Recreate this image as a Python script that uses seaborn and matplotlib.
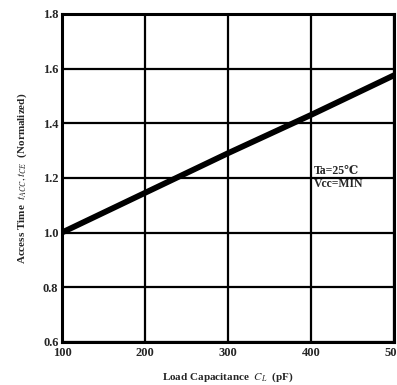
import matplotlib
matplotlib.use("Agg")
import matplotlib.pyplot as plt
import seaborn as sns
import pandas as pd

# Data
load_pf = [100, 200, 300, 400, 500]
access_norm = [1.00, 1.145, 1.29, 1.43, 1.575]
x_ticks = [100, 200, 300, 400, 500]
y_ticks = [0.6, 0.8, 1.0, 1.2, 1.4, 1.6, 1.8]

sns.set_style("white")
plt.rcParams['font.family'] = ['Liberation Serif', 'DejaVu Serif']
plt.rcParams['mathtext.fontset'] = 'stix'

df = pd.DataFrame({"CL": load_pf, "t": access_norm})

fig = plt.figure(figsize=(3.97, 3.85), dpi=100)
ax = fig.add_axes([0.156, 0.112, 0.836, 0.852])

sns.lineplot(data=df, x="CL", y="t", ax=ax, color="black", linewidth=4.2)

ax.set_xlim(100, 500)
ax.set_ylim(0.6, 1.8)
ax.set_xticks(x_ticks)
ax.set_yticks(y_ticks)
ax.set_xticklabels([str(v) for v in x_ticks], fontsize=9, fontweight='bold')
ax.set_yticklabels([f"{v:.1f}" for v in y_ticks], fontsize=9, fontweight='bold')
ax.tick_params(axis='x', length=0, pad=4)
ax.tick_params(axis='y', length=0, pad=2.5)
ax.grid(True, color='black', linewidth=1.6)
ax.set_axisbelow(True)
for s in ax.spines.values():
    s.set_color('black')
    s.set_linewidth(2.2)

ax.set_xlabel(r"Load Capacitance  $C_L$  (pF)", fontsize=8, fontweight='bold', labelpad=8)
ax.set_ylabel(r"Access Time  $t_{ACC}, t_{CE}$  (Normalized)", fontsize=8, fontweight='bold', labelpad=10)

ax.text(0.76, 0.54, "Ta=25\u2103\nVcc=MIN", transform=ax.transAxes, fontsize=8.5,
        fontweight='bold', ha='left', va='top', linespacing=1.15,
        family=['Liberation Serif', 'DejaVu Serif'])

fig.savefig("out.png", dpi=100)
